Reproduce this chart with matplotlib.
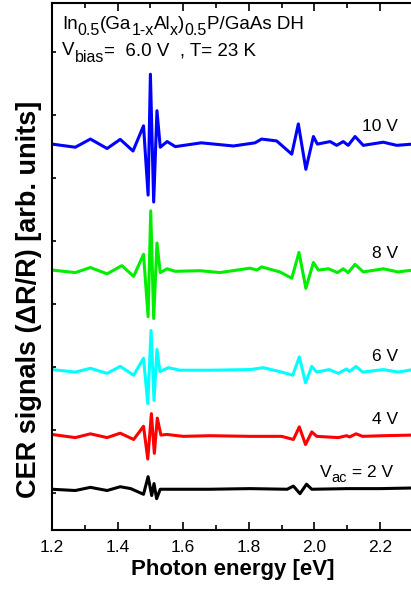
import numpy as np
import matplotlib
matplotlib.use("Agg")
import matplotlib.pyplot as plt

plt.rcParams['font.family'] = ['Liberation Sans', 'DejaVu Sans']

# photon energy [eV] / signal (arb. units, relative to each trace's baseline)
e_2v = [1.200, 1.271, 1.317, 1.368, 1.408, 1.440, 1.479, 1.493, 1.504, 1.511, 1.519, 1.530,
        1.550, 1.680, 1.804, 1.917, 1.936, 1.956, 1.976, 1.992, 2.100, 2.200, 2.300]
s_2v = [0.00, -0.02, 0.03, -0.02, 0.04, 0.01, -0.08, 0.20, -0.10, 0.09, -0.15, 0.00,
        0.00, 0.00, 0.01, 0.00, 0.05, -0.07, 0.08, 0.00, 0.01, 0.01, 0.02]

e_4v = [1.200, 1.271, 1.317, 1.368, 1.408, 1.449, 1.479, 1.492, 1.503, 1.512, 1.521, 1.532,
        1.550, 1.600, 1.682, 1.804, 1.900, 1.936, 1.954, 1.973, 1.992, 2.007, 2.073, 2.098,
        2.107, 2.127, 2.147, 2.210, 2.300]
s_4v = [0.03, -0.02, 0.04, -0.02, 0.05, -0.05, 0.16, -0.36, 0.36, -0.27, 0.29, 0.02,
        0.03, 0.00, 0.01, 0.00, 0.00, -0.05, 0.15, -0.13, 0.07, 0.00, -0.02, 0.01,
        -0.01, 0.04, 0.00, 0.01, 0.02]

e_6v = [1.200, 1.271, 1.317, 1.368, 1.408, 1.449, 1.479, 1.492, 1.502, 1.511, 1.520, 1.529,
        1.555, 1.590, 1.682, 1.804, 1.844, 1.900, 1.934, 1.954, 1.973, 1.992, 2.007, 2.045,
        2.073, 2.098, 2.107, 2.127, 2.147, 2.210, 2.256, 2.300]
s_6v = [0.01, -0.03, 0.03, -0.05, 0.06, -0.08, 0.19, -0.53, 0.63, -0.48, 0.33, -0.02,
        0.04, 0.00, 0.00, 0.01, 0.04, -0.03, -0.08, 0.21, -0.20, 0.06, -0.03, 0.01,
        -0.05, 0.02, -0.02, 0.06, -0.03, 0.01, -0.03, 0.01]

e_8v = [1.200, 1.271, 1.317, 1.368, 1.413, 1.449, 1.479, 1.493, 1.501, 1.510, 1.520, 1.530,
        1.551, 1.576, 1.651, 1.712, 1.804, 1.825, 1.839, 1.895, 1.931, 1.953, 1.974, 1.997,
        2.012, 2.043, 2.070, 2.088, 2.103, 2.124, 2.149, 2.210, 2.255, 2.300]
s_8v = [0.00, -0.04, 0.04, -0.06, 0.07, -0.10, 0.25, -0.74, 0.94, -0.77, 0.43, -0.04,
        0.02, -0.02, -0.01, -0.04, 0.03, 0.00, 0.05, -0.03, -0.13, 0.28, -0.29, 0.12,
        0.00, 0.02, -0.04, 0.02, -0.04, 0.09, -0.03, 0.02, -0.03, 0.00]

e_10v = [1.200, 1.271, 1.317, 1.368, 1.408, 1.447, 1.479, 1.493, 1.500, 1.510, 1.520, 1.530,
         1.551, 1.576, 1.655, 1.753, 1.819, 1.839, 1.885, 1.931, 1.951, 1.974, 1.997, 2.009,
         2.048, 2.068, 2.088, 2.103, 2.124, 2.149, 2.210, 2.251, 2.300]
s_10v = [0.00, -0.05, 0.08, -0.07, 0.075, -0.11, 0.29, -0.81, 1.11, -0.92, 0.53, -0.05,
         0.04, -0.04, 0.02, -0.03, 0.02, 0.08, 0.05, -0.16, 0.32, -0.40, 0.12, 0.00,
         0.04, -0.02, 0.04, -0.02, 0.12, -0.02, 0.03, -0.02, 0.00]

energies = [e_2v, e_4v, e_6v, e_8v, e_10v]
signals = [s_2v, s_4v, s_6v, s_8v, s_10v]
offsets = [0.06, 0.90, 1.95, 3.54, 5.54]
colors = ['black', '#ff0000', '#00ffff', '#00ee00', '#0000ff']
labels = ['4 V', '6 V', '8 V', '10 V']
label_y = [0.27, 0.22, 0.27, 0.28]

# text runs: (string, is_subscript)
title_runs = [('In', 0), ('0.5', 1), ('(Ga', 0), ('1-x', 1), ('Al', 0), ('x', 1),
              (')', 0), ('0.5', 1), ('P/GaAs DH', 0)]
bias_runs = [('V', 0), ('bias', 1), ('=  6.0 V  , T= 23 K', 0)]
vac_runs = [('V', 0), ('ac', 1), (' = 2 V', 0)]

FS = 12.5


def rich_text(ax, x, y, runs, fs, sub_fs, drop):
    prev = ax.text(x, y, runs[0][0], fontsize=sub_fs if runs[0][1] else fs, va='baseline')
    prev_sub = runs[0][1]
    for s, sub in runs[1:]:
        dy = 0 if sub == prev_sub else (-drop if sub else drop)
        prev = ax.annotate(s, xy=(1, 0), xycoords=prev, xytext=(0, dy),
                           textcoords='offset points', va='bottom',
                           fontsize=sub_fs if sub else fs)
        prev_sub = sub


fig = plt.figure(figsize=(4.11, 5.94), dpi=100)
ax = fig.add_axes([52 / 411, 1 - 530 / 594, 360.8 / 411, 527 / 594])

for e, s, off, c in zip(energies, signals, offsets, colors):
    ax.plot(e, np.array(s) + off, color=c, lw=2.2, solid_joinstyle='round')

for lab, off, ly in zip(labels, offsets[1:], label_y):
    ax.text(2.256, off + ly, lab, ha='right', va='center', fontsize=FS)

rich_text(ax, 2.017, offsets[0] + 0.19, vac_runs, FS, 10.5, 3.6)
rich_text(ax, 1.2305, 7.37, title_runs, 13.5, 11.5, 4.0)
rich_text(ax, 1.2305, 6.95, bias_runs, 13.5, 11.5, 4.0)

ax.set_xlim(1.2, 2.3)
ax.set_ylim(-0.587, 7.78)
ax.set_xticks(np.arange(1.2, 2.25, 0.2))
ax.set_xticks(np.arange(1.3, 2.3, 0.2), minor=True)
ax.set_xticklabels(['1.2', '1.4', '1.6', '1.8', '2.0', '2.2'])
ax.set_yticks(np.arange(0, 8))
ax.set_yticklabels([])
ax.tick_params(axis='x', which='major', direction='in', length=6, width=1.2, top=True,
               labelsize=12.5, pad=7)
ax.tick_params(axis='x', which='minor', direction='in', length=3.5, width=1.2, top=True)
ax.tick_params(axis='y', which='major', direction='in', length=3, width=1.2)
for sp in ax.spines.values():
    sp.set_linewidth(1.5)

ax.set_xlabel('Photon energy [eV]', fontsize=16, fontweight='bold', labelpad=3)
ax.set_ylabel('CER signals (ΔR/R) [arb. units]', fontsize=19.5, fontweight='bold')
ax.yaxis.set_label_coords(-0.063, 0.438)
ax.yaxis.label.set_va('center')

fig.savefig('out.png', dpi=100)
